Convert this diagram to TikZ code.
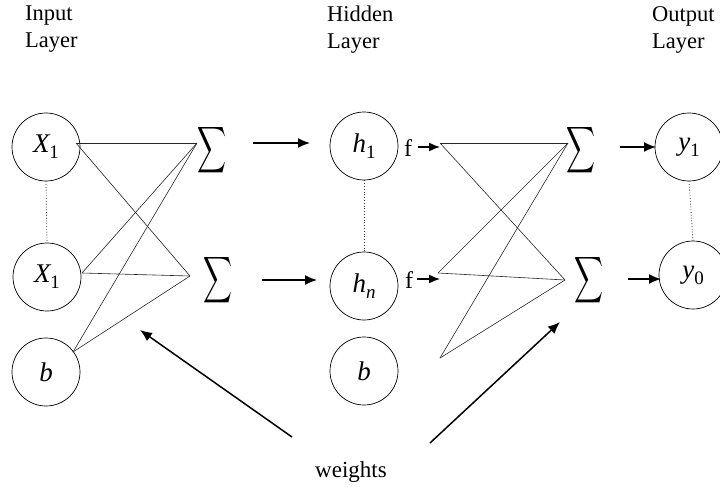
\documentclass[tikz,border=0pt]{standalone}
\usepackage{fontspec}
\setmainfont{Liberation Serif}
\usetikzlibrary{arrows.meta}
\newcommand\nvar[2]{{\itshape #1}\raisebox{-6pt}{\fontsize{19}{19}\selectfont #2}}
\newcommand\bigsigma{\resizebox{29pt}{34pt}{$\displaystyle\sum$}}
\begin{document}
\begin{tikzpicture}[x=1pt,y=-1pt,
 neuron/.style={draw, circle, minimum size=68pt, inner sep=0pt, line width=0.7pt,
   font=\fontsize{27}{27}\selectfont},
 wline/.style={line width=0.6pt, draw=black!85},
 arr/.style={line width=1.5pt, -{Latex[length=12pt,width=10pt]}},
 sarr/.style={line width=1.5pt, -{Latex[length=11pt,width=9pt]}},
 dots/.style={dotted, line width=0.8pt, draw=black!80},
 lbl/.style={font=\fontsize{22.5}{27}\selectfont, align=left, anchor=north west, inner sep=0pt},
 sig/.style={inner sep=0pt},
 flbl/.style={font=\fontsize{24}{24}\selectfont, inner sep=0pt}
]
\useasboundingbox (0,0) rectangle (720,487);

% layer labels
\node[lbl] (inlbl) at (25,6) {Input\\Layer};
\node[lbl] (hidlbl) at (327,6) {Hidden\\Layer};
\node[lbl] (outlbl) at (652,6) {Output\\Layer};

% neurons
\node[neuron] (x1a) at (46,147) {\nvar{X}{1}};
\node[neuron] (x1b) at (47,277) {\nvar{X}{1}};
\node[neuron] (bin) at (46,372) {\itshape b};
\node[neuron] (h1) at (364,146) {\nvar{h}{1}};
\node[neuron] (hn) at (364,286) {\nvar{h}{\itshape n}};
\node[neuron] (bh) at (364,371) {\itshape b};
\node[neuron] (y1) at (689,147) {\nvar{y}{1}};
\node[neuron] (y0) at (693,275) {\nvar{y}{0}};

% dotted links
\draw[dots] (x1a.south) -- (x1b.north);
\draw[dots] (h1.south) -- (hn.north);
\draw[dots] (y1.south) -- (y0.north);

% sums
\node[sig] (s1) at (212,150) {\bigsigma};
\node[sig] (s2) at (218,280) {\bigsigma};
\node[sig] (s3) at (581,150) {\bigsigma};
\node[sig] (s4) at (589,280) {\bigsigma};

% activation labels
\node[flbl] (f1) at (408,148) {f};
\node[flbl] (f2) at (409,280) {f};

% fan points
\coordinate (a1) at (76,143);
\coordinate (a2) at (82,273);
\coordinate (a3) at (73,352);
\coordinate (p1) at (197,143);
\coordinate (p2) at (190,276);
\coordinate (r1) at (440,143);
\coordinate (r2) at (438,273);
\coordinate (r3) at (440,358);
\coordinate (q1) at (568,143);
\coordinate (q2) at (565,280);

\foreach \s in {a1,a2,a3} {\draw[wline] (\s) -- (p1); \draw[wline] (\s) -- (p2);}
\foreach \s in {r1,r2,r3} {\draw[wline] (\s) -- (q1); \draw[wline] (\s) -- (q2);}

% arrows
\coordinate (t1s) at (253,143); \coordinate (t1e) at (310,143);
\coordinate (t2s) at (262,280); \coordinate (t2e) at (317,280);
\draw[arr] (t1s) -- (t1e);
\draw[arr] (t2s) -- (t2e);
\coordinate (g1s) at (418,147); \coordinate (g1e) at (440,147);
\coordinate (g2s) at (417,279); \coordinate (g2e) at (440,279);
\draw[sarr] (g1s) -- (g1e);
\draw[sarr] (g2s) -- (g2e);
\coordinate (o1s) at (620,147); \coordinate (o1e) at (656,147);
\coordinate (o2s) at (628,279); \coordinate (o2e) at (661,279);
\draw[arr] (o1s) -- (o1e);
\draw[arr] (o2s) -- (o2e);

% weights
\node[font=\fontsize{23}{23}\selectfont] (w) at (351,472) {weights};
\coordinate (wl) at (292,437); \coordinate (wlt) at (140,330);
\coordinate (wr) at (430,443); \coordinate (wrt) at (560,322);
\draw[arr] (wl) -- (wlt);
\draw[arr] (wr) -- (wrt);
\end{tikzpicture}
\end{document}
